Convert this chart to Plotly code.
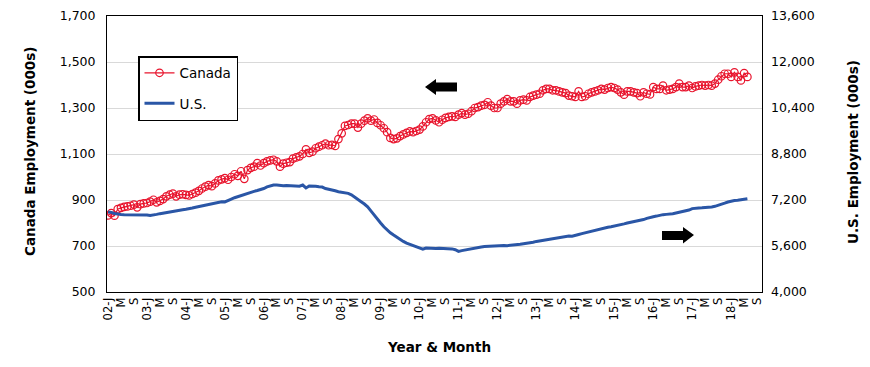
import plotly.graph_objects as go

# Monthly data, Jan 2002 - Jun 2018
canada = [
    # 2002
    833, 843, 832, 860, 866, 870, 872, 875, 880, 868, 882, 885,
    # 2003
    887, 893, 901, 890, 896, 904, 916, 923, 928, 916, 923, 925,
    # 2004
    922, 920, 926, 932, 940, 950, 958, 965, 960, 972, 985, 990,
    # 2005
    995, 988, 1000, 1012, 1005, 1025, 992, 1030, 1040, 1045, 1060, 1050,
    # 2006
    1060, 1068, 1072, 1075, 1068, 1045, 1058, 1062, 1065, 1080, 1085, 1090,
    # 2007
    1100, 1120, 1105, 1110, 1125, 1132, 1138, 1145, 1138, 1140, 1135, 1165,
    # 2008
    1190, 1222, 1226, 1232, 1232, 1215, 1232, 1245, 1255, 1245, 1250, 1235,
    # 2009
    1225, 1212, 1195, 1170, 1165, 1168, 1178, 1185, 1192, 1198, 1195, 1200,
    # 2010
    1206, 1220, 1238, 1252, 1255, 1246, 1238, 1249, 1257, 1261, 1264, 1261,
    # 2011
    1271, 1278, 1271, 1275, 1286, 1300, 1304, 1310, 1314, 1325, 1310, 1300,
    # 2012
    1300, 1319, 1329, 1339, 1329, 1329, 1319, 1333, 1336, 1333, 1348, 1354,
    # 2013
    1358, 1362, 1377, 1383, 1383, 1377, 1377, 1372, 1368, 1365, 1354, 1351,
    # 2014
    1348, 1372, 1348, 1351, 1362, 1368, 1372, 1377, 1383, 1380, 1387, 1391,
    # 2015
    1387, 1380, 1368, 1358, 1372, 1372, 1368, 1365, 1351, 1368, 1362, 1359,
    # 2016
    1391, 1383, 1383, 1397, 1377, 1380, 1383, 1391, 1406, 1391, 1391, 1397,
    # 2017
    1387, 1394, 1397, 1400, 1397, 1400, 1397, 1406, 1423, 1438, 1449, 1449,
    # 2018
    1435, 1455, 1435, 1420, 1452, 1435,
]

us = [
    # 2002
    6783, 6770, 6730, 6700, 6695, 6690, 6690, 6695, 6690, 6688, 6690, 6690,
    # 2003
    6680, 6660, 6670, 6700, 6725, 6748, 6770, 6794, 6810, 6829, 6845, 6864,
    # 2004
    6880, 6887, 6920, 6950, 6975, 7000, 7020, 7045, 7080, 7110, 7125, 7140,
    # 2005
    7135, 7170, 7230, 7280, 7320, 7360, 7395, 7430, 7470, 7500, 7530, 7560,
    # 2006
    7600, 7655, 7700, 7722, 7720, 7705, 7700, 7705, 7700, 7680, 7670, 7680,
    # 2007
    7720, 7620, 7690, 7690, 7680, 7660, 7650, 7600, 7565, 7540, 7520, 7490,
    # 2008
    7470, 7450, 7430, 7380, 7290, 7200, 7140, 7060, 6960, 6820, 6670, 6540,
    # 2009
    6400, 6270, 6150, 6060, 5980, 5900, 5820, 5760, 5700, 5660, 5615, 5580,
    # 2010
    5530, 5490, 5530, 5520, 5510, 5515, 5520, 5515, 5510, 5510, 5500, 5470,
    # 2011
    5414, 5440, 5465, 5490, 5510, 5530, 5550, 5565, 5580, 5590, 5600, 5612,
    # 2012
    5625, 5630, 5620, 5612, 5620, 5635, 5645, 5660, 5680, 5690, 5700, 5730,
    # 2013
    5760, 5780, 5800, 5810, 5840, 5860, 5870, 5880, 5900, 5930, 5950, 5940,
    # 2014
    5960, 6000, 6030, 6060, 6090, 6120, 6150, 6180, 6210, 6240, 6255, 6270,
    # 2015
    6290, 6330, 6330, 6370, 6400, 6420, 6445, 6470, 6480, 6520, 6560, 6600,
    # 2016
    6620, 6640, 6670, 6690, 6700, 6705, 6720, 6745, 6770, 6800, 6830, 6850,
    # 2017
    6900, 6920, 6925, 6930, 6935, 6945, 6960, 6980, 7010, 7050, 7090, 7130,
    # 2018
    7165, 7180, 7190, 7210, 7225, 7240,
]

years = list(range(2002, 2019))
tick_labels = []
for yr in years:
    tick_labels += [f"{yr % 100:02d}-J", "M", "S"]

left_ticks = [500, 700, 900, 1100, 1300, 1500, 1700]
right_ticks = [4000, 5600, 7200, 8800, 10400, 12000, 13600]

months = list(range(len(canada)))
tick_pos = [i * 4 for i in range(len(tick_labels))]

FONT = "DejaVu Sans"
RED = "#E8142D"
BLUE = "#2A56A6"

fig = go.Figure()
fig.add_trace(go.Scatter(
    x=months, y=canada, name="Canada", mode="lines+markers",
    line=dict(color=RED, width=1.2),
    marker=dict(symbol="circle-open", size=7.5, color=RED, line=dict(width=1.2)),
    yaxis="y", legendgroup="a",
))
fig.add_trace(go.Scatter(
    x=months, y=us, name="U.S.", mode="lines",
    line=dict(color=BLUE, width=3),
    yaxis="y2", legendgroup="b",
))

# page has an 8px body margin; figure sized so the plot area lands at
# x 107..762, y 16..292 in the 870x367 window
OFF = 8
W, H = 862, 359
PL, PR, PT, PB = 107, 762, 16, 292
L = PL - OFF
R = W + OFF - PR
T = PT - OFF
B = H + OFF - PB
pw, ph = PR - PL, PB - PT


def px(x):
    return (x - PL) / pw


def py(y):
    return (PB - y) / ph


def arrow_path(pts):
    return "M " + " L ".join(f"{px(a):.5f},{py(b):.5f}" for a, b in pts) + " Z"


left_arrow = [(425, 87), (436, 79), (436, 82.5), (457, 82.5), (457, 91.5),
              (436, 91.5), (436, 95)]
right_arrow = [(694, 235), (683, 227), (683, 231), (662, 231), (662, 240),
               (683, 240), (683, 243.5)]

fig.update_layout(
    width=W, height=H,
    margin=dict(l=L, r=R, t=T, b=B, autoexpand=False),
    paper_bgcolor="white", plot_bgcolor="white",
    font=dict(family=FONT, size=12.5, color="black"),
    showlegend=True,
    legend=dict(
        x=px(138), y=py(56), xanchor="left", yanchor="top",
        bordercolor="black", borderwidth=1.5, bgcolor="white",
        font=dict(family=FONT, size=13.5), traceorder="grouped",
        tracegroupgap=10, itemwidth=30,
    ),
    xaxis=dict(
        range=[-0.3, 201.5], tickmode="array", tickvals=tick_pos,
        ticktext=tick_labels, tickangle=-90, showgrid=False,
        showline=True, linecolor="black", linewidth=1, mirror=True,
        ticks="", tickfont=dict(size=11.5), automargin=False,
        zeroline=False,
    ),
    yaxis=dict(
        range=[500, 1700], tickvals=left_ticks, tickformat=",",
        showgrid=True, gridcolor="#D9D9D9", gridwidth=1,
        showline=True, linecolor="black", linewidth=1, mirror=True,
        ticks="", zeroline=False, automargin=False, ticklabelstandoff=8,
    ),
    yaxis2=dict(
        range=[4000, 13600], tickvals=right_ticks, tickformat=",",
        overlaying="y", side="right", showgrid=False, zeroline=False,
        ticks="", automargin=False, ticklabelstandoff=8,
    ),
    shapes=[
        dict(type="path", xref="paper", yref="paper", path=arrow_path(left_arrow),
             fillcolor="black", line=dict(color="black", width=0)),
        dict(type="path", xref="paper", yref="paper", path=arrow_path(right_arrow),
             fillcolor="black", line=dict(color="black", width=0)),
    ],
    annotations=[
        dict(text="<b>Canada Employment (000s)</b>", xref="paper", yref="paper",
             x=px(30), y=py(152), textangle=-90, showarrow=False,
             font=dict(size=13.5), xanchor="center", yanchor="middle"),
        dict(text="<b>U.S. Employment (000s)</b>", xref="paper", yref="paper",
             x=px(853), y=py(152), textangle=-90, showarrow=False,
             font=dict(size=13.5), xanchor="center", yanchor="middle"),
        dict(text="<b>Year & Month</b>", xref="paper", yref="paper",
             x=px(439), y=py(347), showarrow=False,
             font=dict(size=13.5), xanchor="center", yanchor="middle"),
    ],
)

fig.write_html("out.html")
